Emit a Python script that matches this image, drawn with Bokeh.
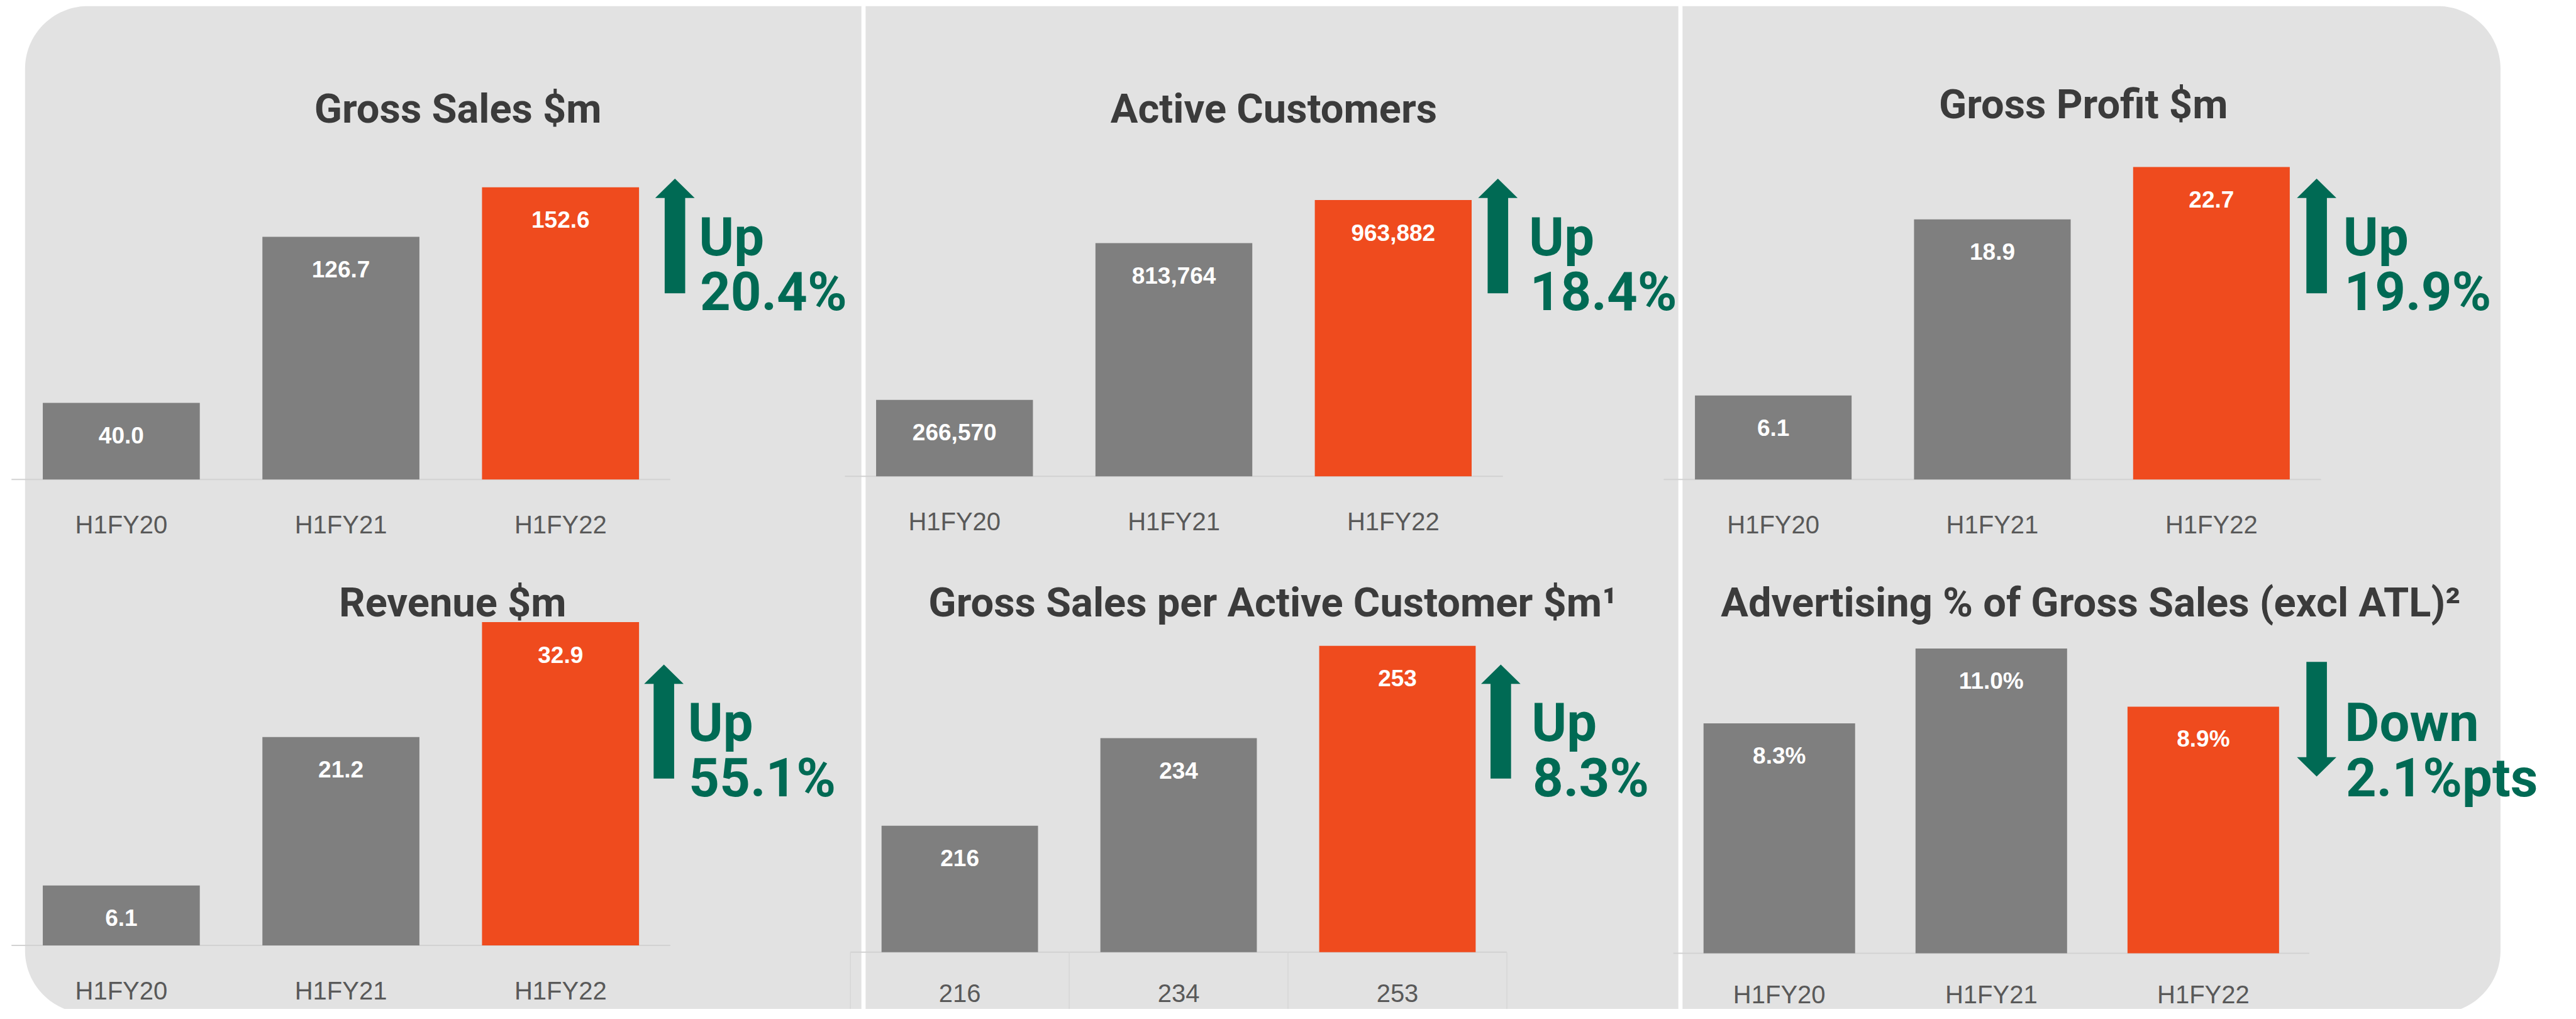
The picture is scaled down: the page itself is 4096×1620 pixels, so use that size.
import numpy as np
from bokeh.plotting import figure
from bokeh.models import Range1d
from bokeh.core.properties import value
from bokeh.embed import file_html
from bokeh.resources import INLINE

# ---------------- data ----------------
categories = ["H1FY20", "H1FY21", "H1FY22"]
titles = ["Gross Sales $m", "Active Customers", "Gross Profit $m",
          "Revenue $m", "Gross Sales per Active Customer $m\u00b9",
          "Advertising % of Gross Sales (excl ATL)\u00b2"]
gross_sales = [40.0, 126.7, 152.6]
active_customers = [266570, 813764, 963882]
gross_profit = [6.1, 18.9, 22.7]
revenue = [6.1, 21.2, 32.9]
sales_per_customer = [216, 234, 253]
advertising_pct = [8.3, 11.0, 8.9]
change_words = ["Up", "Up", "Up", "Up", "Up", "Down"]
change_values = ["20.4%", "18.4%", "19.9%", "55.1%", "8.3%", "2.1%pts"]

series = [gross_sales, active_customers, gross_profit, revenue,
          sales_per_customer, advertising_pct]
formats = ["{:.1f}", "{:,}", "{:.1f}", "{:.1f}", "{:d}", "{:.1f}%"]

# ---------------- style / layout (reference-pixel units) ----------------
REF_W, REF_H = 4878, 1929
W, H = 4080, 1604
GREY, ORANGE, GREEN = "#7f7f7f", "#ef4b1e", "#006a54"
PANEL_BG = "#e2e2e2"
TITLE_C, LABEL_C = "#3b3b3b", "#595959"
bar_colors = [GREY, GREY, ORANGE]

layout = [
    dict(c0=230.0, sp=417.5, base=916, k=3.661, y0=0, tx=870, ty=207, lo=72,
         ax=1282.5, a_top=341, a_bot=560, tl=1335, tb1=453, tb2=558, up=True),
    dict(c0=1814.0, sp=417.0, base=910, k=5.479e-4, y0=0, tx=2421, ty=207, lo=72,
         ax=2847.0, a_top=341, a_bot=560, tl=2913, tb1=453, tb2=558, up=True),
    dict(c0=3370.5, sp=416.5, base=916, k=26.31, y0=0, tx=3960, ty=199, lo=72,
         ax=4403.5, a_top=341, a_bot=560, tl=4461, tb1=453, tb2=558, up=True),
    dict(c0=230.0, sp=417.5, base=1807, k=18.79, y0=0, tx=860, ty=1151, lo=72,
         ax=1261.5, a_top=1270, a_bot=1488, tl=1314, tb1=1381, tb2=1487, up=True),
    dict(c0=1824.0, sp=416.0, base=1820, k=9.30, y0=190, tx=2419, ty=1151, lo=65,
         ax=2852.5, a_top=1270, a_bot=1488, tl=2918, tb1=1381, tb2=1487, up=True),
    dict(c0=3382.0, sp=403.0, base=1822, k=52.98, y0=0, tx=3974, ty=1151, lo=65,
         ax=4403.5, a_top=1265, a_bot=1484, tl=4464, tb1=1381, tb2=1487, up=False),
]

p = figure(width=W, height=H, x_range=Range1d(0, REF_W), y_range=Range1d(REF_H, 0),
           output_backend="svg", toolbar_location=None, min_border=0,
           x_axis_location=None, y_axis_location=None,
           background_fill_color="white", border_fill_color="white",
           outline_line_color=None)
p.grid.visible = False

# rounded panel background
def rounded_rect(x0, y0, x1, y1, r, n=40):
    t = np.linspace(0, np.pi / 2, n)
    xs = np.concatenate([x0 + r - r * np.cos(t), x1 - r + r * np.sin(t),
                         x1 - r + r * np.cos(t), x0 + r - r * np.sin(t)])
    ys = np.concatenate([y0 + r - r * np.sin(t), y0 + r - r * np.cos(t),
                         y1 - r + r * np.sin(t), y1 - r + r * np.cos(t)])
    return list(xs), list(ys)

bx, by = rounded_rect(47, 11, 4753, 1937, 120)
p.patch(bx, by, fill_color=PANEL_BG, line_color=None)

# white separators
p.quad(left=[1637, 3190], right=[1645, 3198], top=[0, 0], bottom=[REF_H, REF_H],
       fill_color="white", line_color=None)

idx = list(range(len(categories)))
LBL_FONT = value("Liberation Sans")
HEAD_FONT = value("Roboto")

for i, (vals, fmt, L) in enumerate(zip(series, formats, layout)):
    xr, yr = f"x{i}", f"y{i}"
    p.extra_x_ranges[xr] = Range1d(-L["c0"] / L["sp"], (REF_W - L["c0"]) / L["sp"])
    ybot = L["y0"] - (REF_H - L["base"]) / L["k"]
    p.extra_y_ranges[yr] = Range1d(ybot, L["y0"] + L["base"] / L["k"])
    kw = dict(x_range_name=xr, y_range_name=yr)

    # category axis line
    p.segment(x0=[-0.5], x1=[2.5], y0=[L["y0"]], y1=[L["y0"]],
              line_color="#d2d2d2", line_width=2, **kw)
    if i == 4:
        # data-table cell borders under the chart
        p.segment(x0=[-0.5, 0.5, 1.5, 2.5], x1=[-0.5, 0.5, 1.5, 2.5],
                  y0=[L["y0"]] * 4, y1=[ybot] * 4,
                  line_color="#d6d6d6", line_width=1.5, **kw)

    p.vbar(x=idx, top=vals, bottom=L["y0"], width=0.715,
           fill_color=bar_colors, line_color=None, **kw)

    labels = [fmt.format(v) for v in vals]
    p.text(x=idx, y=vals, text=labels, text_align="center",
           text_baseline="alphabetic", y_offset=51.5, text_color="white",
           text_font=LBL_FONT, text_font_style="bold", text_font_size="37px", **kw)

    xlabels = labels if i == 4 else categories
    p.text(x=idx, y=[L["y0"]] * 3, text=xlabels, text_align="center",
           text_baseline="alphabetic", y_offset=L["lo"], text_color=LABEL_C,
           text_font=LBL_FONT, text_font_size="40px", **kw)

    # title
    p.text(x=[L["tx"]], y=[L["ty"]], text=[titles[i]], text_align="center",
           text_baseline="alphabetic", text_color=TITLE_C, text_font=HEAD_FONT,
           text_font_style="bold", text_font_size="65px")

    # arrow
    cx, hw, sw, hh = L["ax"], 37.5, 19.5, 37
    if L["up"]:
        tip, bot = L["a_top"], L["a_bot"]
        hb = tip + hh
        ax_ = [cx - hw, cx, cx + hw, cx + sw, cx + sw, cx - sw, cx - sw]
        ay_ = [hb, tip, hb, hb, bot, bot, hb]
    else:
        top, tip = L["a_top"], L["a_bot"]
        hb = tip - hh
        ax_ = [cx - sw, cx + sw, cx + sw, cx + hw, cx, cx - hw, cx - sw]
        ay_ = [top, top, hb, hb, tip, hb, hb]
    p.patch(ax_, ay_, fill_color=GREEN, line_color=None)

    p.text(x=[L["tl"] - 7, L["tl"] - 5], y=[L["tb1"], L["tb2"]],
           text=[change_words[i], change_values[i]], text_align="left",
           text_baseline="alphabetic", text_color=GREEN, text_font=HEAD_FONT,
           text_font_style="bold", text_font_size="85px")

open("out.html", "w").write(file_html(p, INLINE))
